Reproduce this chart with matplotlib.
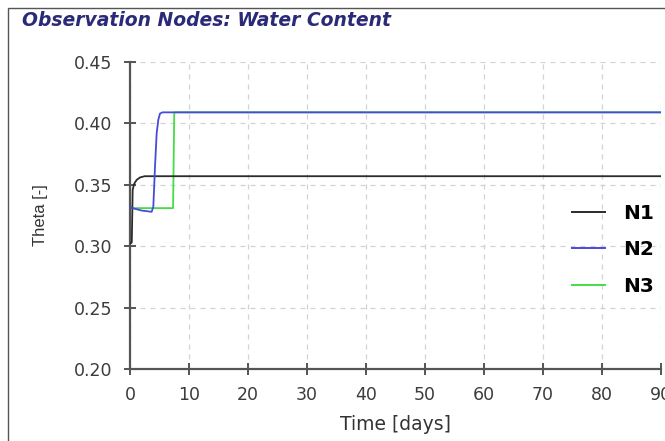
import matplotlib
matplotlib.use("Agg")
import matplotlib.pyplot as plt
from matplotlib.patches import Rectangle

# Observation node water content (theta) vs time
n1_time = [0.0, 0.30, 0.40, 0.45, 0.73, 1.13, 1.7, 2.5, 90.0]
n1_theta = [0.302, 0.303, 0.330, 0.346, 0.351, 0.354, 0.356, 0.357, 0.357]

n2_time = [0.0, 0.4, 2.0, 3.67, 3.95, 4.12, 4.24, 4.52, 4.8, 5.08, 5.5, 90.0]
n2_theta = [0.332, 0.331, 0.329, 0.328, 0.332, 0.351, 0.365, 0.392, 0.403, 0.408, 0.409, 0.409]

n3_time = [0.0, 0.4, 7.3, 7.5, 90.0]
n3_theta = [0.332, 0.331, 0.331, 0.409, 0.409]

# name, time, theta, colour, drawing order
series = [("N1", n1_time, n1_theta, "#2b2b2b", 3),
          ("N2", n2_time, n2_theta, "#4a4ad8", 4),
          ("N3", n3_time, n3_theta, "#44dd44", 2)]

x_ticks = list(range(0, 91, 10))
y_ticks = [0.20, 0.25, 0.30, 0.35, 0.40, 0.45]

fig = plt.figure(figsize=(6.65, 4.41), dpi=100)
fig.patch.set_facecolor("white")

# outer frame of the panel
fig.patches.append(Rectangle((8 / 665, -0.1), 1.2, 1 - 8 / 441 + 0.1,
                             transform=fig.transFigure, fill=False,
                             edgecolor="#555555", linewidth=1.0))

fig.text(22 / 665, 1 - 20 / 441, "Observation Nodes: Water Content",
         fontsize=13.5, fontweight="bold", fontstyle="italic",
         color="#2a2a78", va="center", ha="left", family="DejaVu Sans")

ax = fig.add_axes([130 / 665, 1 - 369 / 441, 531 / 665, 307 / 441])
for name, t, v, c, z in series:
    ax.plot(t, v, color=c, linewidth=1.3, label=name, zorder=z)

ax.set_xlim(0, 90)
ax.set_ylim(0.20, 0.45)
ax.set_xticks(x_ticks)
ax.set_yticks(y_ticks)
ax.set_yticklabels([f"{y:.2f}" for y in y_ticks])

ax.grid(True, color="#d2d2d2", linestyle=(0, (4, 4)), linewidth=0.9)
ax.set_axisbelow(True)

for side in ("top", "right"):
    ax.spines[side].set_visible(False)
for side in ("left", "bottom"):
    ax.spines[side].set_color("#555555")
    ax.spines[side].set_linewidth(1.6)

ax.tick_params(direction="inout", length=8, width=1.4, color="#555555",
               labelsize=12.5, labelcolor="#3c3c3c")
ax.tick_params(axis="y", pad=9)
ax.tick_params(axis="x", pad=8)
for lbl in ax.get_xticklabels() + ax.get_yticklabels():
    lbl.set_family("DejaVu Sans")

ax.set_xlabel("Time [days]", fontsize=13.5, color="#333333",
              family="DejaVu Sans", labelpad=8)
ax.set_ylabel("Theta [-]", fontsize=12, color="#333333",
              family="Liberation Sans", labelpad=18)

leg = ax.legend(loc="center right", bbox_to_anchor=(0.986, 0.388),
                frameon=False, borderaxespad=0, borderpad=0,
                prop={"family": "DejaVu Sans", "weight": "bold", "size": 14.5},
                handlelength=1.6, handletextpad=0.9, labelspacing=0.87)
for line in leg.get_lines():
    line.set_linewidth(1.4)

fig.savefig("out.png", dpi=100, facecolor="white")
